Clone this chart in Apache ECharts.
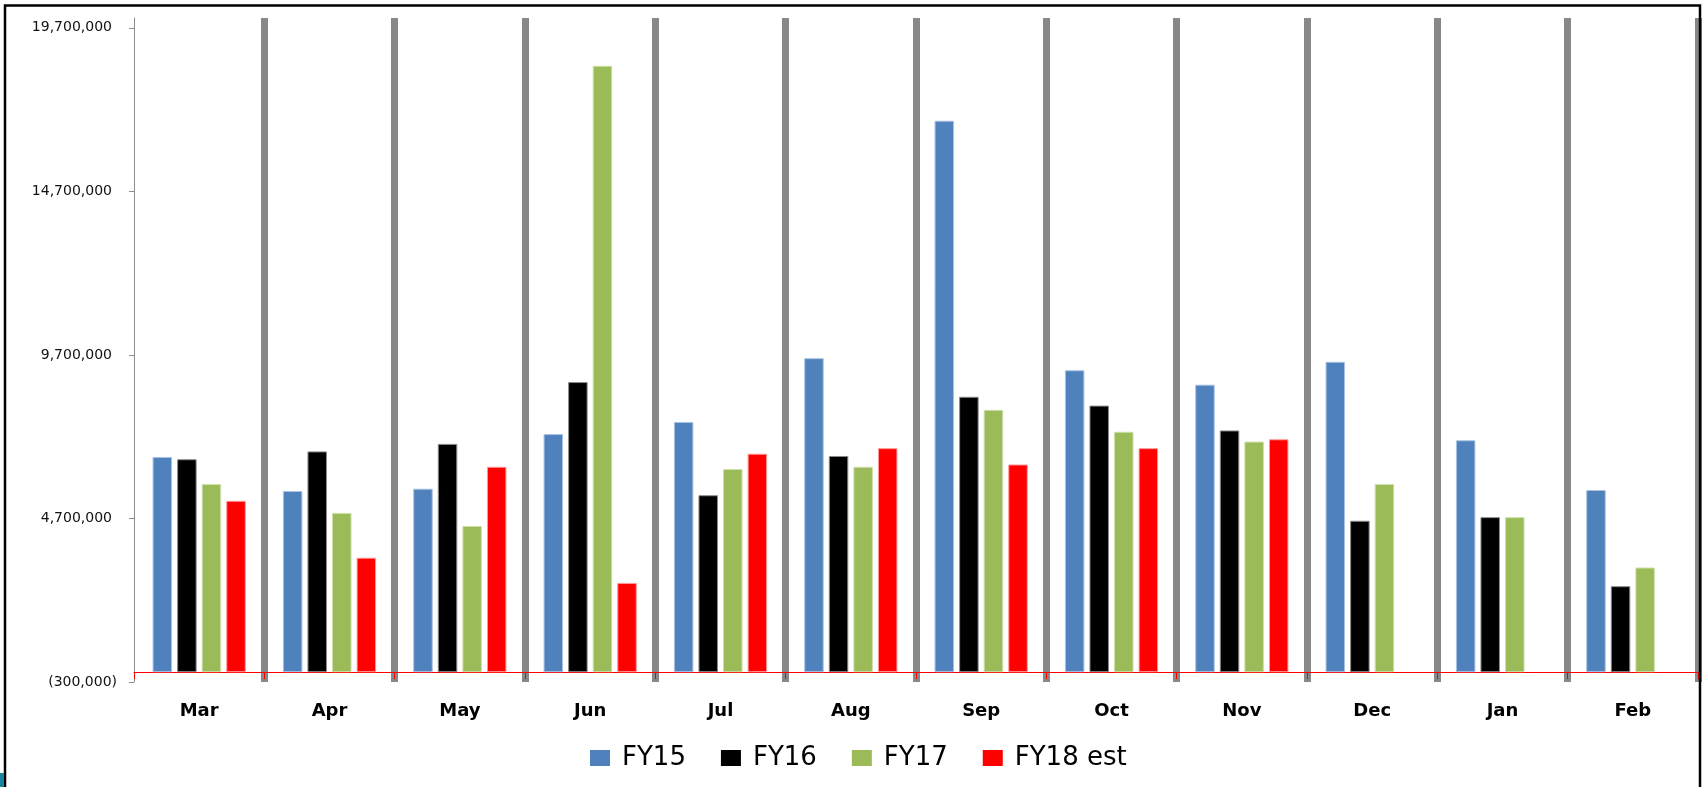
<!DOCTYPE html>
<html>
<head>
<meta charset="utf-8">
<title>Monthly totals FY15–FY18</title>
<script src="https://cdn.jsdelivr.net/npm/echarts@6/dist/echarts.min.js"></script>
<style>
  html, body { margin: 0; padding: 0; background: #fff; }
  #chart { width: 1703px; height: 787px; }
</style>
</head>
<body>
<div id="chart"></div>
<script>
// Months of the fiscal year (March start)
const categories = ['Mar', 'Apr', 'May', 'Jun', 'Jul', 'Aug', 'Sep', 'Oct', 'Nov', 'Dec', 'Jan', 'Feb'];

// Monthly values per fiscal year
const fy15 = [6580000, 5540000, 5610000, 7280000, 7650000, 9600000, 16860000, 9230000, 8790000, 9490000, 7090000, 5570000];
const fy16 = [6510000, 6750000, 6980000, 8870000, 5410000, 6610000, 8420000, 8150000, 7390000, 4630000, 4740000, 2630000];
const fy17 = [5750000, 4870000, 4470000, 18540000, 6210000, 6280000, 8020000, 7350000, 7050000, 5750000, 4740000, 3200000];
const fy18est = [5240000, 3500000, 6280000, 2730000, 6680000, 6850000, 6350000, 6850000, 7120000, null, null, null];

// Value-axis tick positions
const yTicks = [-300000, 4700000, 9700000, 14700000, 19700000];

const seriesNames = ['FY15', 'FY16', 'FY17', 'FY18 est'];

// Accounting style: thousands separators, negatives in parentheses,
// positives padded on the right by the width of ")"
function fmtNumber(v) {
  const s = Math.abs(Math.round(v)).toString().replace(/\B(?=(\d{3})+(?!\d))/g, ',');
  return v < 0 ? '(' + s + ')' : '{p|' + s + '}';
}

const chart = echarts.init(document.getElementById('chart'), null, { renderer: 'canvas' });

const barStyle = (color, border) => ({
  color: color,
  borderColor: border,
  borderWidth: 1
});

const option = {
  animation: false,
  backgroundColor: '#ffffff',
  grid: { left: 134, right: 5, top: 18, bottom: 105, containLabel: false },
  legend: {
    data: seriesNames,
    left: 585,
    top: 740,
    icon: 'rect',
    itemWidth: 20,
    itemHeight: 16,
    itemGap: 35,
    itemStyle: { borderWidth: 0 },
    textStyle: {
      fontFamily: 'DejaVu Sans',
      fontSize: 26,
      color: '#000',
      padding: [0, 0, 0, 7]
    }
  },
  xAxis: {
    type: 'category',
    data: categories,
    boundaryGap: true,
    axisLine: { show: true, onZero: true, lineStyle: { color: '#ff0000', width: 1 } },
    axisTick: { show: true, interval: 0, length: 7, lineStyle: { color: '#ff0000', width: 1 } },
    axisLabel: {
      interval: 0,
      margin: 20,
      fontFamily: 'DejaVu Sans',
      fontWeight: 'bold',
      fontSize: 18,
      color: '#000'
    },
    splitLine: {
      show: true,
      interval: 0,
      showMinLine: false,
      showMaxLine: true,
      lineStyle: { color: '#888888', width: 7 }
    }
  },
  yAxis: {
    type: 'value',
    min: -300000,
    max: 20000000,
    axisLine: { show: true, lineStyle: { color: '#8c8c8c', width: 1 } },
    axisTick: { show: true, length: 5, customValues: yTicks, lineStyle: { color: '#8c8c8c' } },
    splitLine: { show: false },
    axisLabel: {
      customValues: yTicks,
      margin: 17,
      fontFamily: 'DejaVu Sans',
      fontSize: 14,
      color: '#111',
      formatter: fmtNumber,
      rich: {
        p: { fontFamily: 'DejaVu Sans', fontSize: 14, color: '#111', padding: [0, 5, 0, 0] }
      }
    }
  },
  series: [
    { name: 'FY15', type: 'bar', data: fy15, barWidth: 19.5, barGap: '26%', itemStyle: barStyle('#4f81bd', '#a9c3e3') },
    { name: 'FY16', type: 'bar', data: fy16, barWidth: 19.5, barGap: '26%', itemStyle: barStyle('#000000', '#8a8a8a') },
    { name: 'FY17', type: 'bar', data: fy17, barWidth: 19.5, barGap: '26%', itemStyle: barStyle('#9bbb59', '#cde0a8') },
    { name: 'FY18 est', type: 'bar', data: fy18est, barWidth: 19.5, barGap: '26%', itemStyle: barStyle('#ff0000', '#ff9a9a') }
  ],
  graphic: [
    {
      type: 'rect',
      silent: true,
      z: 100,
      shape: { x: 5, y: 5.5, width: 1695, height: 820 },
      style: { fill: null, stroke: '#000', lineWidth: 2.5 }
    },
    {
      type: 'rect',
      silent: true,
      z: 100,
      shape: { x: 0, y: 773, width: 4, height: 14 },
      style: { fill: '#17869e' }
    }
  ]
};

chart.setOption(option);
</script>
</body>
</html>
